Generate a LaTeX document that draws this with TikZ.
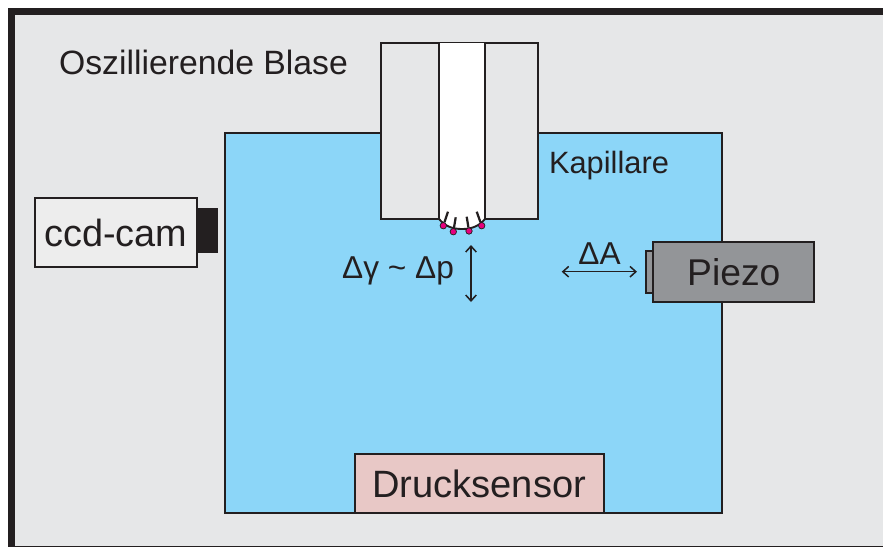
\documentclass[tikz,border=0pt]{standalone}
\usepackage{fontspec}
\setmainfont{Liberation Sans}
\usetikzlibrary{arrows.meta}
\definecolor{rahmen}{HTML}{231F20}
\definecolor{hellgrau}{HTML}{E6E7E8}
\definecolor{wasser}{HTML}{8CD6F8}
\definecolor{piezograu}{HTML}{939598}
\definecolor{kamera}{HTML}{EDEDED}
\definecolor{sensor}{HTML}{E8C8C6}
\definecolor{tensid}{HTML}{E6007E}
\begin{document}
\begin{tikzpicture}[x=0.03cm,y=-0.03cm,>={Straight Barb[length=5pt,width=9pt]}] % 1 unit = 1 px
\tikzstyle{mybox} = [draw=rahmen, line width=1.6pt, inner sep=0pt, text=rahmen] % box with text
\tikzstyle{mylabel} = [inner sep=0pt, text=rahmen, anchor=base] % free text
\tikzstyle{mydot} = [circle, draw=rahmen, fill=tensid, line width=0.6pt, minimum width=5.5pt, inner sep=0pt] % head of molecule
\tikzstyle{mytail} = [draw=rahmen, line width=1.9pt] % tail of molecule
\tikzstyle{myarrow} = [draw=rahmen, line width=1.3pt, <->]
\useasboundingbox (0,0) rectangle (883,547);
% frame and tank
\fill[rahmen] (8,8) rectangle (883,547);
\fill[hellgrau] (15,15) rectangle (883,545.5);
\node[mybox, line width=2.2pt, fill=wasser, minimum width=14.91cm, minimum height=11.4cm] (tank) at (473.5,323) {};
% capillary
\node[mybox, fill=hellgrau, minimum width=4.71cm, minimum height=5.28cm] (halter) at (459.5,131) {};
\fill[white] (439,43) -- (439,219) .. controls (445,226) and (452,229) .. (462,229) .. controls (472,229) and (479,226) .. (485,219) -- (485,43) -- cycle;
\draw[rahmen, line width=1.6pt] (439,43) -- (439,219) .. controls (445,226) and (452,229) .. (462,229) .. controls (472,229) and (479,226) .. (485,219) -- (485,43);
\node[mylabel, font=\fontsize{28.8pt}{30pt}\selectfont] (blase) at (203.5,74) {Oszillierende Blase};
\node[mylabel, font=\fontsize{26.3pt}{28pt}\selectfont] (kapillare) at (609,173) {Kapillare};
% molecules at the bubble
\coordinate (t1) at (448,211.7);
\coordinate (t2) at (455.7,217.3);
\coordinate (t3) at (466.7,216.7);
\coordinate (t4) at (476.7,211.7);
\node[mydot] (k1) at (443.3,225.7) {};
\node[mydot] (k2) at (453.3,231.7) {};
\node[mydot] (k3) at (469,231) {};
\node[mydot] (k4) at (481.7,225.7) {};
\draw[mytail] (k1) -- (t1);
\draw[mytail] (k2) -- (t2);
\draw[mytail] (k3) -- (t3);
\draw[mytail] (k4) -- (t4);
% camera
\node[mybox, fill=kamera, minimum width=4.85cm, minimum height=2.09cm, font=\fontsize{32.3pt}{34pt}\selectfont] (cam) at (116,232.5) {ccd-cam};
\node[fill=rahmen, inner sep=0pt, minimum width=0.65cm, minimum height=1.37cm] (linse) at (207.5,230.5) {};
% pressure
\node[mylabel, font=\fontsize{27pt}{29pt}\selectfont] (dgamma) at (398,278) {Δγ \string~ Δp};
\coordinate (p1) at (471,245);
\coordinate (p2) at (471,302);
\draw[myarrow] (p1) -- (p2);
% piezo
\node[mybox, fill=piezograu, minimum width=0.22cm, minimum height=1.25cm] (stempel) at (649.5,272) {};
\node[mybox, fill=piezograu, minimum width=4.83cm, minimum height=1.8cm, font=\fontsize{31.8pt}{33pt}\selectfont] (piezo) at (733.8,272.3) {Piezo};
\node[mylabel, font=\fontsize{27pt}{29pt}\selectfont] (da) at (599.5,264) {ΔA};
\coordinate (a1) at (561.7,271.7);
\coordinate (a2) at (637,271.7);
\draw[myarrow] (a1) -- (a2);
% sensor
\node[mybox, fill=sensor, minimum width=7.47cm, minimum height=1.75cm, font=\fontsize{32.5pt}{34pt}\selectfont] (druck) at (479.2,483.5) {Drucksensor};
\end{tikzpicture}
\end{document}
